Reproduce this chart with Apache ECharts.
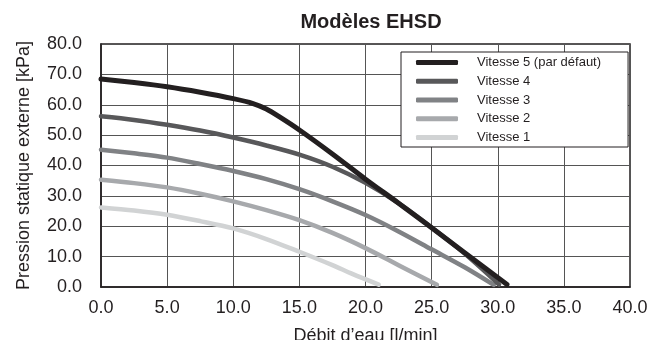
<!DOCTYPE html>
<html>
<head>
<meta charset="utf-8">
<script src="https://cdn.jsdelivr.net/npm/echarts@6/dist/echarts.min.js"></script>
<style>
html,body{margin:0;padding:0;background:#fff;}
#chart{width:650px;height:340px;}
</style>
</head>
<body>
<div id="chart"></div>
<script>
var seriesNames = ['Vitesse 5 (par défaut)', 'Vitesse 4', 'Vitesse 3', 'Vitesse 2', 'Vitesse 1'];

var v5x = [0, 2.5, 5, 7.5, 10, 11.5, 12.5, 13.5, 15, 17.5, 20, 22.5, 25, 27.5, 30.7];
var v5y = [68.5, 67.3, 65.9, 64.1, 62.0, 60.4, 58.6, 56.0, 51.7, 43.8, 35.5, 27.6, 19.5, 11.3, 0.8];

var v4x = [0, 2.5, 5, 7.5, 10, 12.5, 15, 17.5, 20, 22.5, 25, 27.5, 30.1];
var v4y = [56.2, 55.0, 53.4, 51.5, 49.2, 46.6, 43.6, 39.6, 34.3, 27.6, 19.6, 11.0, 0.8];

var v3x = [0, 2.5, 5, 7.5, 10, 12.5, 15, 17.5, 20, 22.5, 25, 27.5, 29.7];
var v3y = [45.2, 44.0, 42.6, 40.5, 38.2, 35.5, 32.2, 28.2, 23.7, 18.3, 12.4, 6.5, 0.7];

var v2x = [0, 2.5, 5, 7.5, 10, 12.5, 15, 17.5, 20, 22.5, 25.4];
var v2y = [35.3, 34.2, 32.8, 30.7, 28.2, 25.3, 22.0, 17.8, 12.8, 7.2, 0.7];

var v1x = [0, 2.5, 5, 7.5, 10, 12.5, 15, 17.5, 19, 21.0];
var v1y = [26.2, 25.2, 23.8, 21.7, 19.3, 15.8, 11.6, 7.2, 4.3, 0.8];

var colors = ['#231f20', '#58585a', '#808285', '#a7a9ac', '#d1d3d4'];
var widths = [5, 4.5, 4.5, 4.5, 4.5];

function pairs(xs, ys) { return xs.map(function (x, i) { return [x, ys[i]]; }); }
var allData = [pairs(v5x, v5y), pairs(v4x, v4y), pairs(v3x, v3y), pairs(v2x, v2y), pairs(v1x, v1y)];

var series = [];
for (var i = 4; i >= 0; i--) {
  series.push({
    name: seriesNames[i],
    type: 'line',
    data: allData[i],
    smooth: 0.3,
    showSymbol: false,
    symbol: 'none',
    color: colors[i],
    lineStyle: { color: colors[i], width: widths[i], cap: 'round', join: 'round' },
    z: 10 - i
  });
}

var font = 'Liberation Sans, Arial, sans-serif';
var chart = echarts.init(document.getElementById('chart'), null, { renderer: 'canvas' });
chart.setOption({
  animation: false,
  backgroundColor: '#ffffff',
  textStyle: { fontFamily: font },
  title: {
    text: 'Modèles EHSD',
    left: 366,
    textAlign: 'center',
    top: 7,
    textStyle: { fontFamily: font, fontSize: 20, fontWeight: 'bold', color: '#231f20' }
  },
  grid: {
    left: 101, right: 20, top: 44, bottom: 53,
    containLabel: false,
    outerBoundsMode: 'none',
    show: true, borderColor: '#231f20', borderWidth: 1.5, backgroundColor: 'transparent'
  },
  legend: {
    orient: 'vertical',
    left: 401,
    top: 52,
    data: seriesNames,
    icon: 'roundRect',
    itemWidth: 42,
    itemHeight: 5,
    itemGap: 5.75,
    padding: [4, 27, 3, 15],
    backgroundColor: '#ffffff',
    borderColor: '#231f20',
    borderWidth: 1,
    borderRadius: 0,
    textStyle: { fontFamily: font, fontSize: 13, color: '#231f20', padding: [0, 0, 0, 14] }
  },
  xAxis: {
    type: 'value',
    min: 0, max: 40, interval: 5,
    name: 'Débit d\u2019eau [l/min]',
    nameLocation: 'middle',
    nameGap: 40,
    nameTextStyle: { fontFamily: font, fontSize: 18, color: '#231f20' },
    axisLine: { show: true, lineStyle: { color: '#231f20', width: 1.5 } },
    axisTick: { show: false },
    axisLabel: { fontFamily: font, fontSize: 18, color: '#231f20', margin: 12, formatter: function (v) { return v.toFixed(1); } },
    splitLine: { show: true, lineStyle: { color: '#555555', width: 1 } }
  },
  yAxis: {
    type: 'value',
    min: 0, max: 80, interval: 10,
    name: 'Pression statique externe [kPa]',
    nameLocation: 'middle',
    nameGap: 68,
    nameTextStyle: { fontFamily: font, fontSize: 18, color: '#231f20' },
    axisLine: { show: true, lineStyle: { color: '#231f20', width: 1.5 } },
    axisTick: { show: false },
    axisLabel: { fontFamily: font, fontSize: 18, color: '#231f20', margin: 19, formatter: function (v) { return v.toFixed(1); } },
    splitLine: { show: true, lineStyle: { color: '#555555', width: 1 } }
  },
  series: series
});
</script>
</body>
</html>
